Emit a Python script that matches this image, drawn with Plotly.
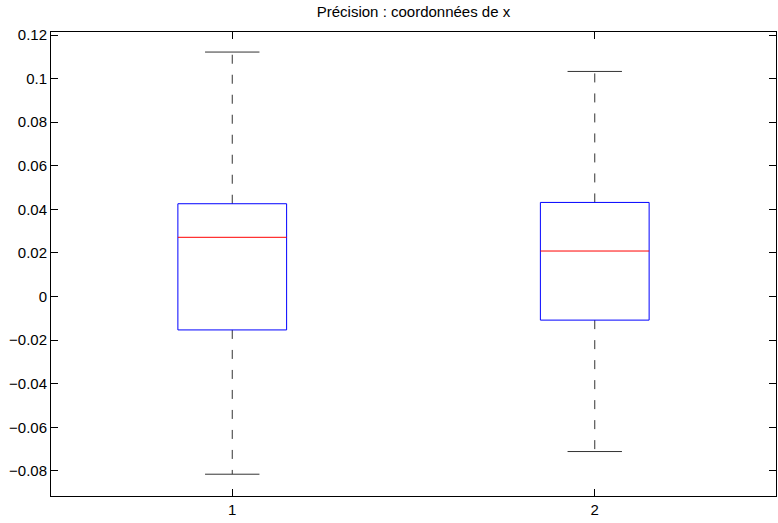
import plotly.graph_objects as go

groups = [1, 2]
q1 = [-0.0153, -0.0108]
median = [0.0272, 0.0209]
q3 = [0.0426, 0.0432]
lower_whisker = [-0.0815, -0.0711]
upper_whisker = [0.1122, 0.1033]
y_ticks = [-0.08, -0.06, -0.04, -0.02, 0, 0.02, 0.04, 0.06, 0.08, 0.1, 0.12]

box_half = 0.15
cap_half = 0.075
FONT = "Liberation Sans, Arial, sans-serif"

fig = go.Figure()
for i, g in enumerate(groups):
    # whiskers (dashed)
    fig.add_trace(go.Scatter(x=[g, g], y=[q3[i], upper_whisker[i]], mode="lines",
                             line=dict(color="#333333", width=1, dash="9px,11px"), showlegend=False))
    fig.add_trace(go.Scatter(x=[g, g], y=[q1[i], lower_whisker[i]], mode="lines",
                             line=dict(color="#333333", width=1, dash="9px,11px"), showlegend=False))
    # caps
    fig.add_trace(go.Scatter(x=[g - cap_half, g + cap_half], y=[upper_whisker[i]] * 2, mode="lines",
                             line=dict(color="#333333", width=1), showlegend=False))
    fig.add_trace(go.Scatter(x=[g - cap_half, g + cap_half], y=[lower_whisker[i]] * 2, mode="lines",
                             line=dict(color="#333333", width=1), showlegend=False))
    # box
    fig.add_trace(go.Scatter(x=[g - box_half, g + box_half, g + box_half, g - box_half, g - box_half],
                             y=[q1[i], q1[i], q3[i], q3[i], q1[i]], mode="lines",
                             line=dict(color="#0000ff", width=1), showlegend=False))
    # median
    fig.add_trace(go.Scatter(x=[g - box_half, g + box_half], y=[median[i]] * 2, mode="lines",
                             line=dict(color="#ff0000", width=1), showlegend=False))

axis_common = dict(showline=True, linecolor="black", linewidth=1, mirror="ticks",
                   ticks="inside", ticklen=7, tickcolor="black", showgrid=False, zeroline=False,
                   automargin=False,
                   tickfont=dict(family=FONT, size=15, color="black"))

fig.update_xaxes(range=[0.5, 2.5], tickvals=groups, ticktext=[str(g) for g in groups], **axis_common)
fig.update_yaxes(range=[-0.0915, 0.1214], tickvals=y_ticks,
                 ticktext=[("\u2212" if v < 0 else "") + (f"{abs(v):.2f}".rstrip("0").rstrip(".") if v != 0 else "0") for v in y_ticks],
                 **axis_common)

fig.update_layout(
    width=778, height=523,
    margin=dict(l=51, r=2, t=32, b=27),
    plot_bgcolor="white", paper_bgcolor="white",
    title=dict(text="Précision : coordonnées de x", x=0.5, xref="paper", y=1 - 12 / 523, yanchor="middle",
               font=dict(family=FONT, size=15, color="black")),
)

fig.write_html("out.html")
